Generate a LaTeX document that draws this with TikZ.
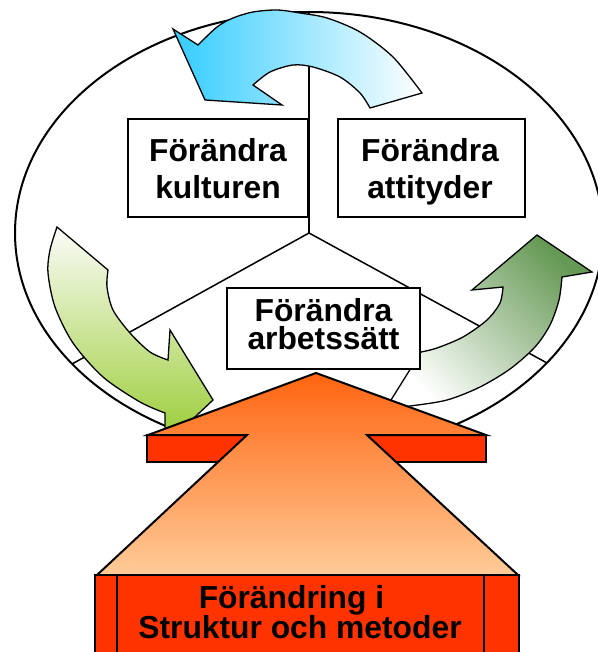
\documentclass[tikz,border=0pt]{standalone}
\usepackage{fontspec}
\setmainfont{Liberation Sans}
\definecolor{skyblue}{HTML}{33CCFF}
\definecolor{leafgreen}{HTML}{99CC33}
\definecolor{leafpale}{HTML}{FBFCF8}
\definecolor{mossgreen}{HTML}{669955}
\definecolor{flame}{HTML}{FF6410}
\definecolor{peach}{HTML}{FFCC99}
\definecolor{scarlet}{HTML}{FF3300}
\begin{document}
\begin{tikzpicture}[x=1pt,y=-1pt,
  spoke/.style={line width=1.5pt},
  cyclearrow/.style={draw, line width=1.3pt, line join=miter},
  labelbox/.style={draw, line width=2pt, fill=white, inner sep=0pt},
  lbl/.style={font=\fontsize{31.8}{37}\selectfont\bfseries, inner sep=0pt, anchor=base},
  twoline/.style={font=\fontsize{31.8}{#1}\selectfont\bfseries, inner sep=0pt, align=center},
  heavy/.style={draw, line width=2pt, line join=miter}]
\useasboundingbox (0,0) rectangle (597,652);

% outer ring
\draw[line width=2pt] (309,233) ellipse [x radius=294, y radius=221];

% three spokes from the hub
\coordinate (hub) at (309,233);
\coordinate (topend) at (309,12);
\coordinate (leftend) at (72,364);
\coordinate (rightend) at (547,363);
\draw[spoke] (hub) -- (topend);
\draw[spoke] (hub) -- (leftend);
\draw[spoke] (hub) -- (rightend);

% curved arrow at the top (blue)
\path[cyclearrow, left color=skyblue, right color=white]
  plot[smooth] coordinates {(422,93) (393,57) (360,32) (327,18) (300,13) (277,10) (253,12) (233,18) (217,27) (198,45)}
  -- (173,29) -- (205,100) -- (282,105)
  -- plot[smooth] coordinates {(253,85) (270,72) (293,65) (313,67) (340,77) (360,93) (370,108)}
  -- cycle;

% curved arrow on the left (green, pointing down)
\path[cyclearrow, top color=leafpale, bottom color=leafgreen]
  plot[smooth] coordinates {(57,227) (50,250) (48,273) (55,307) (73,343) (103,377) (140,402) (165,413)}
  -- (165,445) -- (213,400) -- (170,330)
  -- plot[smooth] coordinates {(168,360) (150,352) (130,333) (113,310) (107,287) (108,270)}
  -- cycle;

% curved arrow on the right (green, pointing up)
\path[cyclearrow, bottom color=white, top color=mossgreen, shading angle=-45]
  (421,352) -- (386,408)
  -- plot[smooth] coordinates {(386,408) (410,406) (447,400) (480,387) (510,369) (535,347) (550,325) (559,300) (562,277)}
  -- (592,272) -- (537,235) -- (472,290)
  -- plot[smooth] coordinates {(503,287) (500,303) (487,320) (463,337) (437,348) (421,352)}
  -- cycle;

% labelled boxes
\node[labelbox, minimum width=180pt, minimum height=98pt] (kultur) at (218,168) {};
\node[labelbox, minimum width=187pt, minimum height=98pt] (attityd) at (431.5,168) {};
\node[labelbox, minimum width=193pt, minimum height=81pt] (arbete) at (323.5,328.5) {};

\node[twoline=37] (kulturtext) at (218,168.8) {Förändra\\kulturen};
\node[twoline=37] (attitydtext) at (430,172.2) {Förändra\\attityder};
\node[twoline=28] (arbetetext) at (323.5,324.3) {Förändra\\arbetssätt};

% big upward arrow: cross bar, body, base block
\draw[heavy, fill=scarlet] (147,435) rectangle (486,462);
\path[heavy, top color=flame, bottom color=peach]
  (316,373) -- (486,435) -- (367,435) -- (518,575) -- (97,575) -- (247,435) -- (148,435) -- cycle;
\draw[heavy, fill=scarlet] (95,575) rectangle (519,666);
\draw[heavy] (117,575) -- (117,666);
\draw[heavy] (484,575) -- (484,666);

\node[lbl] (baseA) at (291.5,608) {Förändring i};
\node[lbl] (baseB) at (300,638) {Struktur och metoder};
\end{tikzpicture}
\end{document}
